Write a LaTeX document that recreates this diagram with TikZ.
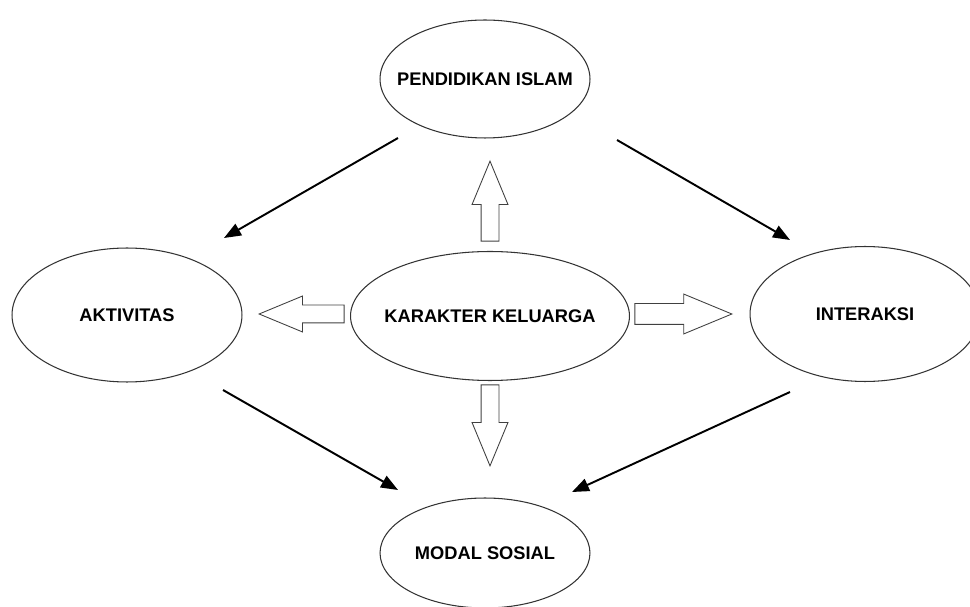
\documentclass[tikz,border=0pt]{standalone}
\usepackage{fontspec}
\setmainfont{Liberation Sans}
\usetikzlibrary{shapes.geometric,shapes.arrows,arrows.meta}
\tikzset{
    konsep/.style={draw=black!80, line width=0.6pt, ellipse, inner sep=0pt,
        label={[font=\bfseries\fontsize{10.4}{12}\selectfont]center:#1}},
    panahblok/.style={draw=black!75, line width=0.5pt, single arrow, inner sep=0pt, inner ysep=0.17cm,
        single arrow tip angle=45, single arrow head extend=0.18cm, anchor=tip},
    panah/.style={line width=1.1pt, -{Triangle[length=0.34cm,width=0.26cm]}}
}
\begin{document}
\begin{tikzpicture}[x=0.02cm,y=-0.02cm]
                \useasboundingbox (0,0) rectangle (970,607);
                \node[konsep=PENDIDIKAN ISLAM, minimum width=4.2cm, minimum height=2.36cm] (PI) at (485,79) {};
                \node[konsep=AKTIVITAS, minimum width=4.6cm, minimum height=2.68cm] (AKT) at (127,315) {};
                \node[konsep=KARAKTER KELUARGA, minimum width=5.58cm, minimum height=2.58cm] (KK) at (490,316) {};
                \node[konsep=INTERAKSI, minimum width=4.6cm, minimum height=2.7cm] (INT) at (865,314) {};
                \node[konsep=MODAL SOSIAL, minimum width=4.2cm, minimum height=2.2cm] (MS) at (485,553) {};
                \node[panahblok, minimum height=1.6cm, rotate=90] (KKPI) at (490,160) {};
                \node[panahblok, minimum height=1.7cm, rotate=180] (KKAKT) at (258,314) {};
                \node[panahblok, minimum height=1.94cm, inner ysep=0.2cm, single arrow head extend=0.19cm] (KKINT) at (733,314) {};
                \node[panahblok, minimum height=1.62cm, rotate=-90] (KKMS) at (490,467) {};
                \coordinate (PIa) at (398,138);
                \coordinate (AKTa) at (224,238);
                \coordinate (PIb) at (617,140);
                \coordinate (INTa) at (790,240);
                \coordinate (AKTb) at (223,390);
                \coordinate (MSa) at (398,490);
                \coordinate (INTb) at (790,392);
                \coordinate (MSb) at (572,492);
                \draw[panah] (PIa) to (AKTa);
                \draw[panah] (PIb) to (INTa);
                \draw[panah] (AKTb) to (MSa);
                \draw[panah] (INTb) to (MSb);
            \end{tikzpicture}
\end{document}
